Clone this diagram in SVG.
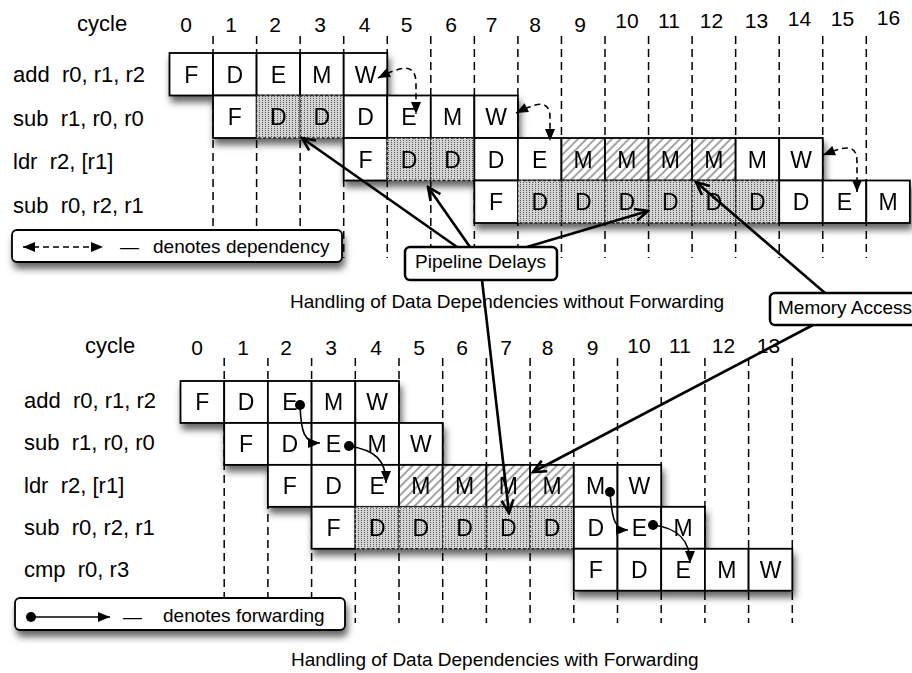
<svg xmlns="http://www.w3.org/2000/svg" width="912" height="673" viewBox="0 0 912 673">
<defs>
<style>
text{font-family:"Liberation Sans",Arial,Helvetica,sans-serif;fill:#000}
.cell{fill:#fff;stroke:#000;stroke-width:1.8}
.sh{fill:url(#stip);stroke:#222;stroke-width:1.3;stroke-dasharray:3 2}
.ht{fill:url(#hatch);stroke:#000;stroke-width:1.8}
.lt{font-size:23px;text-anchor:middle}
.lbl{font-size:22px}
.num{font-size:21px;text-anchor:middle}
.cap{font-size:19px}
.grid{stroke:#000;stroke-width:1.5;stroke-dasharray:8 5;fill:none}
.ptr{stroke:#000;stroke-width:2.6;fill:none;marker-end:url(#open)}
.dep{stroke:#000;stroke-width:1.6;stroke-dasharray:6 4;fill:none;marker-start:url(#tri);marker-end:url(#tri)}
.fwd{stroke:#000;stroke-width:1.6;fill:none;marker-end:url(#tri)}
.box{fill:#fff;stroke:#000;stroke-width:2.5}
.row{filter:url(#shd)}
</style>
<pattern id="stip" width="3" height="2" patternUnits="userSpaceOnUse"><rect width="3" height="2" fill="#d4d4d4"/><rect x="1" y="0" width="1" height="1" fill="#5a5a5a"/></pattern>
<pattern id="hatch" width="6" height="6" patternUnits="userSpaceOnUse" patternTransform="rotate(45)"><rect width="6" height="6" fill="#fff"/><line x1="3" y1="0" x2="3" y2="6" stroke="#666" stroke-width="1.2"/></pattern>
<filter id="shd" x="-10%" y="-20%" width="130%" height="170%"><feDropShadow dx="2" dy="6" stdDeviation="3.5" flood-color="#000" flood-opacity="0.6"/></filter>
<marker id="open" markerUnits="userSpaceOnUse" viewBox="-16 -9 18 18" refX="0" refY="0" markerWidth="18" markerHeight="18" orient="auto"><path d="M-13,-6 L0,0 L-13,6" fill="none" stroke="#000" stroke-width="2.6"/></marker>
<marker id="tri" markerUnits="userSpaceOnUse" viewBox="-13 -6 14 12" refX="0" refY="0" markerWidth="14" markerHeight="12" orient="auto-start-reverse"><path d="M0,0 L-12,-5 L-12,5 Z" fill="#000"/></marker>
</defs>
<rect width="912" height="673" fill="#fff"/>

<!-- top grid -->
<g id="grid-top" class="grid">
<line x1="213.05" y1="36" x2="213.05" y2="258"/><line x1="256.6" y1="36" x2="256.6" y2="258"/><line x1="300.15" y1="36" x2="300.15" y2="258"/><line x1="343.7" y1="36" x2="343.7" y2="258"/><line x1="387.25" y1="36" x2="387.25" y2="258"/><line x1="430.8" y1="36" x2="430.8" y2="258"/><line x1="474.35" y1="36" x2="474.35" y2="258"/><line x1="517.9" y1="36" x2="517.9" y2="258"/><line x1="561.45" y1="36" x2="561.45" y2="258"/><line x1="605" y1="36" x2="605" y2="258"/><line x1="648.55" y1="36" x2="648.55" y2="258"/><line x1="692.1" y1="36" x2="692.1" y2="258"/><line x1="735.65" y1="36" x2="735.65" y2="258"/><line x1="779.2" y1="36" x2="779.2" y2="258"/><line x1="822.75" y1="36" x2="822.75" y2="258"/><line x1="866.3" y1="36" x2="866.3" y2="258"/>
</g>
<!-- bottom grid -->
<g id="grid-bottom" class="grid">
<line x1="224.2" y1="358" x2="224.2" y2="623"/><line x1="267.9" y1="358" x2="267.9" y2="623"/><line x1="311.6" y1="358" x2="311.6" y2="623"/><line x1="355.3" y1="358" x2="355.3" y2="623"/><line x1="399" y1="358" x2="399" y2="623"/><line x1="442.7" y1="358" x2="442.7" y2="623"/><line x1="486.4" y1="358" x2="486.4" y2="623"/><line x1="530.1" y1="358" x2="530.1" y2="623"/><line x1="573.8" y1="358" x2="573.8" y2="623"/><line x1="617.5" y1="358" x2="617.5" y2="623"/><line x1="661.2" y1="358" x2="661.2" y2="623"/><line x1="704.9" y1="358" x2="704.9" y2="623"/><line x1="748.6" y1="358" x2="748.6" y2="623"/><line x1="792.3" y1="358" x2="792.3" y2="623"/>
</g>

<!-- top headers -->
<g id="header-top">
<text class="lbl" x="77" y="31">cycle</text>
<text class="num" x="186" y="32">0</text><text class="num" x="231" y="32">1</text><text class="num" x="275" y="32">2</text><text class="num" x="320" y="32">3</text><text class="num" x="364.5" y="32">4</text><text class="num" x="406.5" y="32">5</text><text class="num" x="451" y="32">6</text><text class="num" x="491.5" y="32">7</text><text class="num" x="535" y="32">8</text><text class="num" x="580" y="32">9</text><text class="num" x="627" y="28">10</text><text class="num" x="669" y="28">11</text><text class="num" x="711.5" y="28">12</text><text class="num" x="756.5" y="28">13</text><text class="num" x="799.5" y="26">14</text><text class="num" x="842.5" y="26">15</text><text class="num" x="888.5" y="25">16</text>
</g>
<g id="labels-top">
<text class="lbl" x="13" y="82" xml:space="preserve">add  r0, r1, r2</text>
<text class="lbl" x="13" y="125.5" xml:space="preserve">sub  r1, r0, r0</text>
<text class="lbl" x="13" y="169" xml:space="preserve">ldr  r2, [r1]</text>
<text class="lbl" x="13" y="212.5" xml:space="preserve">sub  r0, r2, r1</text>
</g>

<!-- top rows -->
<g id="t-add" class="row">
<rect class="cell" x="169.5" y="53" width="43.55" height="42.5"/><rect class="cell" x="213.05" y="53" width="43.55" height="42.5"/><rect class="cell" x="256.6" y="53" width="43.55" height="42.5"/><rect class="cell" x="300.15" y="53" width="43.55" height="42.5"/><rect class="cell" x="343.7" y="53" width="43.55" height="42.5"/>
<text class="lt" x="191.3" y="82.5">F</text><text class="lt" x="234.8" y="82.5">D</text><text class="lt" x="278.4" y="82.5">E</text><text class="lt" x="321.9" y="82.5">M</text><text class="lt" x="365.5" y="82.5">W</text>
</g>
<g id="t-sub1" class="row">
<rect class="cell" x="213.05" y="95.5" width="43.55" height="42.5"/><rect class="sh" x="256.6" y="95.5" width="43.55" height="42.5"/><rect class="sh" x="300.15" y="95.5" width="43.55" height="42.5"/><rect class="cell" x="343.7" y="95.5" width="43.55" height="42.5"/><rect class="cell" x="387.25" y="95.5" width="43.55" height="42.5"/><rect class="cell" x="430.8" y="95.5" width="43.55" height="42.5"/><rect class="cell" x="474.35" y="95.5" width="43.55" height="42.5"/>
<text class="lt" x="234.8" y="125">F</text><text class="lt" x="278.4" y="125">D</text><text class="lt" x="321.9" y="125">D</text><text class="lt" x="365.5" y="125">D</text><text class="lt" x="409" y="125">E</text><text class="lt" x="452.6" y="125">M</text><text class="lt" x="496.1" y="125">W</text>
</g>
<g id="t-ldr" class="row">
<rect class="cell" x="343.7" y="138" width="43.55" height="42.5"/><rect class="sh" x="387.25" y="138" width="43.55" height="42.5"/><rect class="sh" x="430.8" y="138" width="43.55" height="42.5"/><rect class="cell" x="474.35" y="138" width="43.55" height="42.5"/><rect class="cell" x="517.9" y="138" width="43.55" height="42.5"/><rect class="ht" x="561.45" y="138" width="43.55" height="42.5"/><rect class="ht" x="605" y="138" width="43.55" height="42.5"/><rect class="ht" x="648.55" y="138" width="43.55" height="42.5"/><rect class="ht" x="692.1" y="138" width="43.55" height="42.5"/><rect class="cell" x="735.65" y="138" width="43.55" height="42.5"/><rect class="cell" x="779.2" y="138" width="43.55" height="42.5"/>
<text class="lt" x="365.5" y="167.5">F</text><text class="lt" x="409" y="167.5">D</text><text class="lt" x="452.6" y="167.5">D</text><text class="lt" x="496.1" y="167.5">D</text><text class="lt" x="539.7" y="167.5">E</text><text class="lt" x="583.2" y="167.5">M</text><text class="lt" x="626.8" y="167.5">M</text><text class="lt" x="670.3" y="167.5">M</text><text class="lt" x="713.9" y="167.5">M</text><text class="lt" x="757.4" y="167.5">M</text><text class="lt" x="801" y="167.5">W</text>
</g>
<g id="t-sub0" class="row">
<rect class="cell" x="474.35" y="180.5" width="43.55" height="42.5"/><rect class="sh" x="517.9" y="180.5" width="43.55" height="42.5"/><rect class="sh" x="561.45" y="180.5" width="43.55" height="42.5"/><rect class="sh" x="605" y="180.5" width="43.55" height="42.5"/><rect class="sh" x="648.55" y="180.5" width="43.55" height="42.5"/><rect class="sh" x="692.1" y="180.5" width="43.55" height="42.5"/><rect class="sh" x="735.65" y="180.5" width="43.55" height="42.5"/><rect class="cell" x="779.2" y="180.5" width="43.55" height="42.5"/><rect class="cell" x="822.75" y="180.5" width="43.55" height="42.5"/><rect class="cell" x="866.3" y="180.5" width="43.55" height="42.5"/>
<text class="lt" x="496.1" y="210">F</text><text class="lt" x="539.7" y="210">D</text><text class="lt" x="583.2" y="210">D</text><text class="lt" x="626.8" y="210">D</text><text class="lt" x="670.3" y="210">D</text><text class="lt" x="713.9" y="210">D</text><text class="lt" x="757.4" y="210">D</text><text class="lt" x="801" y="210">D</text><text class="lt" x="844.5" y="210">E</text><text class="lt" x="888.1" y="210">M</text>
</g>

<!-- legend top -->
<g id="legend-dependency">
<rect class="box" x="12" y="230" width="330" height="32" rx="5" style="stroke-width:1.8;filter:url(#shd)"/>
<path class="dep" d="M23,247 L103,247"/>
<text class="cap" x="120" y="253">—</text>
<text class="cap" x="153" y="253">denotes dependency</text>
</g>

<text id="caption-top" class="cap" x="290" y="308">Handling of Data Dependencies without Forwarding</text>

<!-- bottom headers -->
<g id="header-bottom">
<text class="lbl" x="85" y="353">cycle</text>
<text class="num" x="197" y="355">0</text><text class="num" x="243" y="355">1</text><text class="num" x="286" y="355">2</text><text class="num" x="331" y="355">3</text><text class="num" x="376" y="355">4</text><text class="num" x="419" y="355">5</text><text class="num" x="462" y="355">6</text><text class="num" x="506" y="355">7</text><text class="num" x="547.5" y="355">8</text><text class="num" x="592.5" y="355">9</text><text class="num" x="639" y="353">10</text><text class="num" x="680" y="353">11</text><text class="num" x="723.5" y="353">12</text><text class="num" x="768.5" y="353">13</text>
</g>
<g id="labels-bottom">
<text class="lbl" x="24" y="408" xml:space="preserve">add  r0, r1, r2</text>
<text class="lbl" x="24" y="450.3" xml:space="preserve">sub  r1, r0, r0</text>
<text class="lbl" x="24" y="492.6" xml:space="preserve">ldr  r2, [r1]</text>
<text class="lbl" x="24" y="534.9" xml:space="preserve">sub  r0, r2, r1</text>
<text class="lbl" x="24" y="577.2" xml:space="preserve">cmp  r0, r3</text>
</g>

<!-- bottom rows -->
<g id="b-add" class="row">
<rect class="cell" x="180.5" y="381" width="43.7" height="41.94"/><rect class="cell" x="224.2" y="381" width="43.7" height="41.94"/><rect class="cell" x="267.9" y="381" width="43.7" height="41.94"/><rect class="cell" x="311.6" y="381" width="43.7" height="41.94"/><rect class="cell" x="355.3" y="381" width="43.7" height="41.94"/>
<text class="lt" x="202.4" y="410.2">F</text><text class="lt" x="246.1" y="410.2">D</text><text class="lt" x="289.8" y="410.2">E</text><text class="lt" x="333.5" y="410.2">M</text><text class="lt" x="377.2" y="410.2">W</text>
</g>
<g id="b-sub1" class="row">
<rect class="cell" x="224.2" y="422.94" width="43.7" height="41.94"/><rect class="cell" x="267.9" y="422.94" width="43.7" height="41.94"/><rect class="cell" x="311.6" y="422.94" width="43.7" height="41.94"/><rect class="cell" x="355.3" y="422.94" width="43.7" height="41.94"/><rect class="cell" x="399" y="422.94" width="43.7" height="41.94"/>
<text class="lt" x="246.1" y="452.1">F</text><text class="lt" x="289.8" y="452.1">D</text><text class="lt" x="333.5" y="452.1">E</text><text class="lt" x="377.2" y="452.1">M</text><text class="lt" x="420.9" y="452.1">W</text>
</g>
<g id="b-ldr" class="row">
<rect class="cell" x="267.9" y="464.88" width="43.7" height="41.94"/><rect class="cell" x="311.6" y="464.88" width="43.7" height="41.94"/><rect class="cell" x="355.3" y="464.88" width="43.7" height="41.94"/><rect class="ht" x="399" y="464.88" width="43.7" height="41.94"/><rect class="ht" x="442.7" y="464.88" width="43.7" height="41.94"/><rect class="ht" x="486.4" y="464.88" width="43.7" height="41.94"/><rect class="ht" x="530.1" y="464.88" width="43.7" height="41.94"/><rect class="cell" x="573.8" y="464.88" width="43.7" height="41.94"/><rect class="cell" x="617.5" y="464.88" width="43.7" height="41.94"/>
<text class="lt" x="289.8" y="494">F</text><text class="lt" x="333.5" y="494">D</text><text class="lt" x="377.2" y="494">E</text><text class="lt" x="420.9" y="494">M</text><text class="lt" x="464.6" y="494">M</text><text class="lt" x="508.3" y="494">M</text><text class="lt" x="552" y="494">M</text><text class="lt" x="595.7" y="494">M</text><text class="lt" x="639.4" y="494">W</text>
</g>
<g id="b-sub0" class="row">
<rect class="cell" x="311.6" y="506.82" width="43.7" height="41.94"/><rect class="sh" x="355.3" y="506.82" width="43.7" height="41.94"/><rect class="sh" x="399" y="506.82" width="43.7" height="41.94"/><rect class="sh" x="442.7" y="506.82" width="43.7" height="41.94"/><rect class="sh" x="486.4" y="506.82" width="43.7" height="41.94"/><rect class="sh" x="530.1" y="506.82" width="43.7" height="41.94"/><rect class="cell" x="573.8" y="506.82" width="43.7" height="41.94"/><rect class="cell" x="617.5" y="506.82" width="43.7" height="41.94"/><rect class="cell" x="661.2" y="506.82" width="43.7" height="41.94"/>
<text class="lt" x="333.5" y="536">F</text><text class="lt" x="377.2" y="536">D</text><text class="lt" x="420.9" y="536">D</text><text class="lt" x="464.6" y="536">D</text><text class="lt" x="508.3" y="536">D</text><text class="lt" x="552" y="536">D</text><text class="lt" x="595.7" y="536">D</text><text class="lt" x="639.4" y="536">E</text><text class="lt" x="683.1" y="536">M</text>
</g>
<g id="b-cmp" class="row">
<rect class="cell" x="573.8" y="548.76" width="43.7" height="41.94"/><rect class="cell" x="617.5" y="548.76" width="43.7" height="41.94"/><rect class="cell" x="661.2" y="548.76" width="43.7" height="41.94"/><rect class="cell" x="704.9" y="548.76" width="43.7" height="41.94"/><rect class="cell" x="748.6" y="548.76" width="43.7" height="41.94"/>
<text class="lt" x="595.7" y="578">F</text><text class="lt" x="639.4" y="578">D</text><text class="lt" x="683.1" y="578">E</text><text class="lt" x="726.8" y="578">M</text><text class="lt" x="770.5" y="578">W</text>
</g>

<!-- legend bottom -->
<g id="legend-forwarding">
<rect class="box" x="15" y="598" width="330" height="32" rx="5" style="stroke-width:1.8;filter:url(#shd)"/>
<circle cx="31" cy="617" r="5"/>
<path class="fwd" d="M31,617 L110,617"/>
<text class="cap" x="123" y="623">—</text>
<text class="cap" x="163" y="622">denotes forwarding</text>
</g>

<text id="caption-bottom" class="cap" x="291" y="666">Handling of Data Dependencies with Forwarding</text>

<!-- connectors -->
<g id="connectors">
<path class="dep" d="M378,78 C398,68 416,60 416,84 L416,114"/>
<path class="dep" d="M516,113 C536,103 550,98 550,118 L550,141"/>
<path class="dep" d="M823,155 C843,147 857,142 857,162 L857,192"/>
<circle cx="300" cy="405" r="5"/><path class="fwd" d="M300,405 C301,432 304,443 320,443"/>
<circle cx="349" cy="446" r="5"/><path class="fwd" d="M349,446 C375,450 386,460 386,483"/>
<circle cx="610" cy="492" r="5"/><path class="fwd" d="M610,492 C612,520 615,530 628,530"/>
<circle cx="653" cy="525" r="5"/><path class="fwd" d="M653,525 C678,528 690,540 690,563"/>
<path class="ptr" d="M457,247 L302,138"/>
<path class="ptr" d="M470,247 L428,187"/>
<path class="ptr" d="M527,247 L648,211"/>
<path class="ptr" d="M482,280 L509,513"/>
<path class="ptr" d="M825,293 L696,182"/>
<path class="ptr" d="M813,325 L533,472"/>
</g>

<!-- callouts -->
<g id="callout-pipeline">
<rect class="box" x="405" y="247" width="152" height="33" rx="5"/>
<text class="cap" x="415" y="268">Pipeline Delays</text>
</g>
<g id="callout-memory">
<rect class="box" x="770" y="293" width="150" height="32" rx="5"/>
<text class="cap" x="778" y="313.5">Memory Access</text>
</g>
</svg>
